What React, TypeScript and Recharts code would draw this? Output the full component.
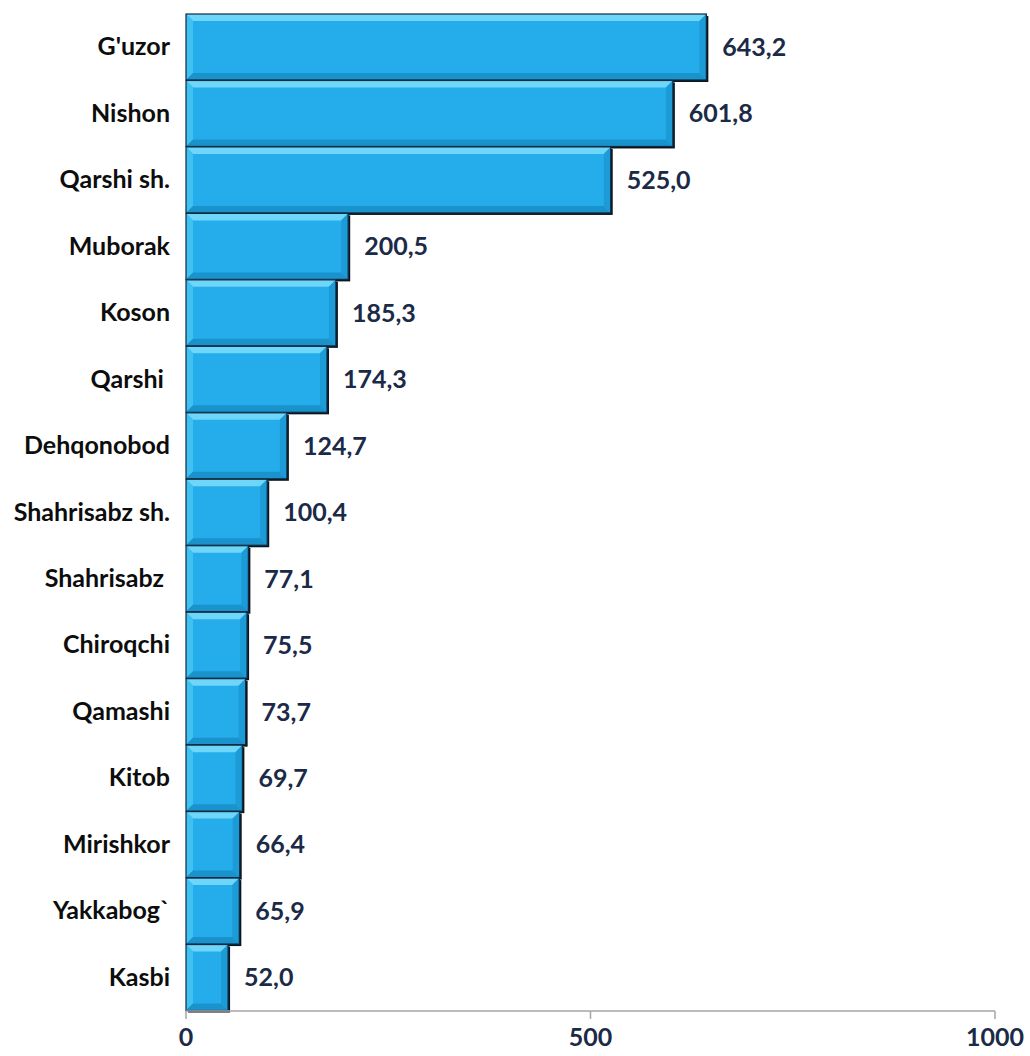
import { BarChart, Bar, XAxis, YAxis, LabelList } from "recharts";

const regions = [
  "G'uzor",
  "Nishon",
  "Qarshi sh.",
  "Muborak",
  "Koson",
  "Qarshi ",
  "Dehqonobod",
  "Shahrisabz sh.",
  "Shahrisabz ",
  "Chiroqchi",
  "Qamashi",
  "Kitob",
  "Mirishkor",
  "Yakkabog`",
  "Kasbi",
];
const values = [643.2, 601.8, 525.0, 200.5, 185.3, 174.3, 124.7, 100.4, 77.1, 75.5, 73.7, 69.7, 66.4, 65.9, 52.0];
const xTicks = [0, 500, 1000];

const data = regions.map((name, i) => ({ name, value: values[i] }));

const FONT = "Lato, 'Open Sans', sans-serif";
const NAVY = "#1b2a47";
const FS = 25;

// bevelled bar like the office "bevel" effect
function BevelBar(props: any) {
  const { x, y, width, height } = props;
  if (width <= 0) return null;
  const b = Math.min(7, width / 4, height / 4);
  const x2 = x + width;
  const y2 = y + height;
  return (
    <g>
      <rect x={x + 2} y={y + 2} width={width} height={height} fill="#0b1520" />
      <rect x={x} y={y} width={width} height={height} fill="#24adea" />
      <polygon points={`${x},${y} ${x2},${y} ${x2 - b},${y + b} ${x + b},${y + b}`} fill="#6ed6f8" />
      <polygon points={`${x},${y} ${x + b},${y + b} ${x + b},${y2 - b} ${x},${y2}`} fill="#3fc1f2" />
      <polygon points={`${x},${y2} ${x + b},${y2 - b} ${x2 - b},${y2 - b} ${x2},${y2}`} fill="#1a92cc" />
      <polygon points={`${x2},${y} ${x2},${y2} ${x2 - b},${y2 - b} ${x2 - b},${y + b}`} fill="#1c9bd6" />
      <rect x={x} y={y} width={width} height={height} fill="none" stroke="#102a40" strokeWidth={1.2} />
    </g>
  );
}

function CategoryTick(props: any) {
  const { x, y, payload } = props;
  return (
    <text
      x={x}
      y={y}
      dy={8}
      textAnchor="end"
      fill="#0d0d0d"
      fontSize={FS}
      fontWeight={700}
      fontFamily={FONT}
      style={{ whiteSpace: "pre" }}
    >
      {payload.value}
    </text>
  );
}

export default function App() {
  return (
    <div style={{ position: "absolute", left: 0, top: 0, background: "#fff" }}>
      <BarChart
        width={1030}
        height={1056}
        data={data}
        layout="vertical"
        barCategoryGap={0}
        margin={{ top: 14, right: 35, left: 0, bottom: 5 }}
      >
        <XAxis
          type="number"
          domain={[0, 1000]}
          ticks={xTicks}
          height={40}
          axisLine={{ stroke: "#a6a6a6", strokeWidth: 1.5 }}
          tickLine={{ stroke: "#a6a6a6", strokeWidth: 1.5 }}
          tickSize={8}
          tick={{ fill: NAVY, fontSize: FS, fontWeight: 700, fontFamily: FONT }}
          tickMargin={9}
        />
        <YAxis
          type="category"
          dataKey="name"
          width={186}
          axisLine={false}
          tickLine={false}
          tickMargin={10}
          tick={<CategoryTick />}
        />
        <Bar dataKey="value" shape={<BevelBar />} isAnimationActive={false}>
          <LabelList
            dataKey="value"
            position="right"
            offset={16}
            formatter={(v: any) => Number(v).toFixed(1).replace(".", ",")}
            style={{ fill: NAVY, fontSize: FS, fontWeight: 700, fontFamily: FONT }}
          />
        </Bar>
      </BarChart>
    </div>
  );
}
